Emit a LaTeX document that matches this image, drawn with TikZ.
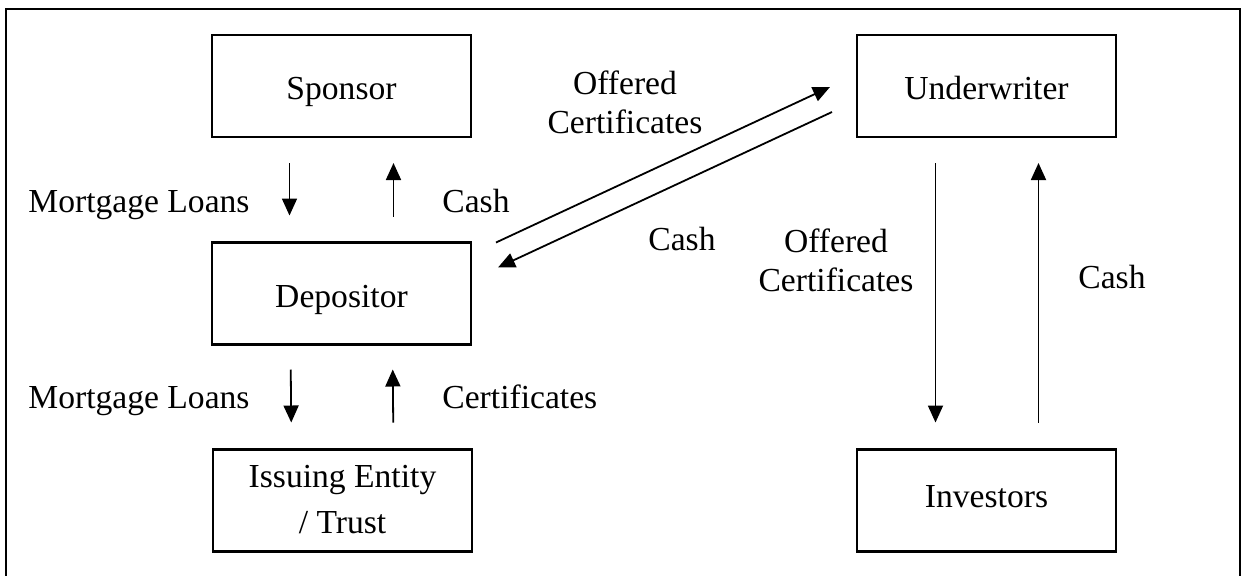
\documentclass[tikz,border=0pt]{standalone}
\usepackage{fontspec}
\setmainfont{Liberation Serif}
\usetikzlibrary{arrows.meta,calc}
\begin{document}
\begin{tikzpicture}[x=0.5pt,y=-0.5pt,
  every node/.style={font=\fontsize{16.8}{19.5}\selectfont},
  box/.style={draw,line width=1.4pt,minimum width=129.5pt,minimum height=51pt,inner sep=0pt,align=center,outer sep=0pt},
  onebox/.style={box,text height=13.5pt,text depth=0pt},
  lbl/.style={inner sep=0pt,align=center},
  arr/.style={line width=0.9pt,-{Triangle[length=8.5pt,width=7.5pt]}}]
\useasboundingbox (0,0) rectangle (1244,575);
\draw[line width=1.2pt] (6,9) rectangle (1240,590);
% boxes
\node[onebox] (sponsor) at (341.5,86) {Sponsor};
\node[onebox] (depositor) at (341.5,293.5) {Depositor};
\node[box,font=\fontsize{16.8}{23}\selectfont] (issuing) at (342.5,500.5) {\raisebox{1.5pt}{Issuing Entity}\\\raisebox{1.5pt}{/ Trust}};
\node[onebox] (underwriter) at (986.5,86) {Underwriter};
\node[onebox,text height=10pt,text depth=3.5pt] (investors) at (986.5,500.5) {Investors};
% labels
\node[lbl,anchor=base west] (ml1) at (28,212) {Mortgage Loans};
\node[lbl,anchor=base west] (cash1) at (442,212) {Cash};
\node[lbl,anchor=base west] (ml2) at (28,408) {Mortgage Loans};
\node[lbl,anchor=base west] (cert) at (442,408) {Certificates};
\node[lbl] (oc1) at (625,102) {Offered\\Certificates};
\node[lbl,anchor=base west] (cash2) at (648,250) {Cash};
\node[lbl] (oc2) at (836,260) {Offered\\Certificates};
\node[lbl,anchor=base west] (cash3) at (1078,288) {Cash};
% vertical arrows
\draw[arr,shorten <=13pt,shorten >=13.5pt] ([xshift=-26pt]sponsor.south) -- ([xshift=-26pt]depositor.north);
\draw[arr,shorten <=13pt,shorten >=13pt] ([xshift=26pt]depositor.north) -- ([xshift=26pt]sponsor.south);
\draw[arr,shorten <=12.5pt,shorten >=13.5pt] ([xshift=-25.5pt]depositor.south) -- ([xshift=-25.5pt]issuing.north);
\draw[arr,shorten <=13.5pt,shorten >=12.5pt] ([xshift=25.5pt]issuing.north) -- ([xshift=25.5pt]depositor.south);
\draw[arr,shorten <=13pt,shorten >=13.5pt] ([xshift=-25.5pt]underwriter.south) -- ([xshift=-25.5pt]investors.north);
\draw[arr,shorten <=13.5pt,shorten >=13pt] ([xshift=26pt]investors.north) -- ([xshift=26pt]underwriter.south);
% diagonal arrows
\draw[arr] ($(depositor.north east)+(25,0)$) -- ($(underwriter.west)+(-27,1)$);
\draw[arr] ($(underwriter.west)+(-25,26)$) -- ($(depositor.north east)+(27,25)$);
\end{tikzpicture}
\end{document}
